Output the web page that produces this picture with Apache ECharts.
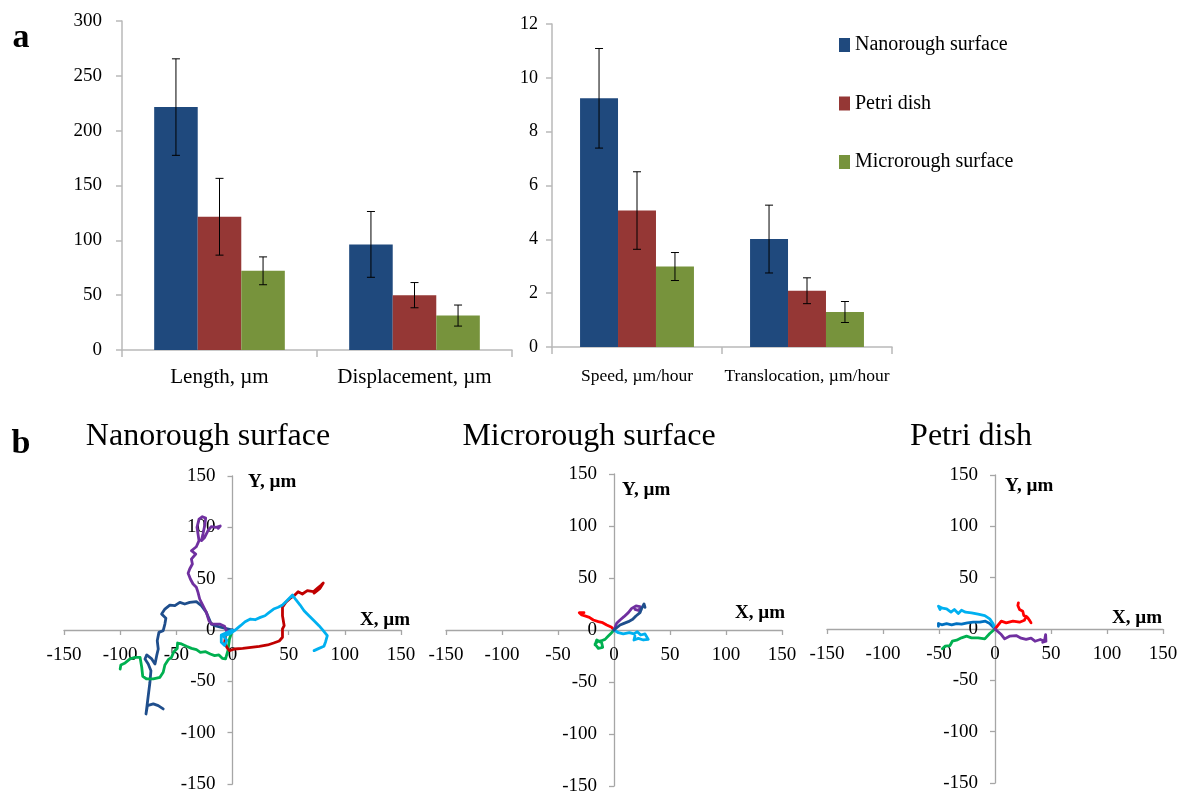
<!DOCTYPE html>
<html>
<head>
<meta charset="utf-8">
<script src="https://cdn.jsdelivr.net/npm/echarts@6/dist/echarts.min.js"></script>
<style>
  html, body { margin: 0; padding: 0; background: #fff; }
  #chart { width: 1179px; height: 793px; }
</style>
</head>
<body>
<div id="chart"></div>
<script>
// ---- Panel a: motility parameters (mean ± SD) ----
const seriesNames = ['Nanorough surface', 'Petri dish', 'Microrough surface'];
const barColors = ['#1F497D', '#953735', '#77933C'];

const distCategories = ['Length, µm', 'Displacement, µm'];
const distNano = [221.5, 96.3];
const distNanoErr = [44, 30];
const distPetri = [121.5, 50];
const distPetriErr = [35, 11.5];
const distMicro = [72.2, 31.4];
const distMicroErr = [12.7, 9.6];
const distTicks = [0, 50, 100, 150, 200, 250, 300];

const rateCategories = ['Speed, µm/hour', 'Translocation, µm/hour'];
const rateNano = [9.24, 4.01];
const rateNanoErr = [1.85, 1.26];
const ratePetri = [5.07, 2.09];
const ratePetriErr = [1.44, 0.48];
const rateMicro = [2.99, 1.30];
const rateMicroErr = [0.52, 0.39];
const rateTicks = [0, 2, 4, 6, 8, 10, 12];

// ---- Panel b: cell trajectories, [x, y] in µm ----
const xyTicks = [-150, -100, -50, 0, 50, 100, 150];

const nanoBlue = [[0,0],[-8,2],[-15,4],[-18.9,5.8],[-23.3,17.2],[-27.7,23.7],[-32.2,27.6],[-38.1,26.9],[-42.5,25.3],[-46.9,26.9],[-51.3,23.7],[-55.8,24.3],[-60.2,20.4],[-63.1,15.6],[-59.3,11.4],[-60.2,5.8],[-61.7,-0.6],[-65.5,-2.3],[-67,-10.4],[-66.1,-18.5],[-67.5,-25],[-69,-33.1],[-71.9,-28.2],[-76.4,-24.3],[-77.9,-28.2],[-75,-33.1],[-72.6,-39.6],[-73.5,-50.9],[-75,-64],[-77,-81.8],[-75.8,-73.7],[-70.5,-72],[-66.1,-73.7],[-61.7,-76.9]];
const nanoGreen = [[0,0],[-2.7,-8.8],[-4.1,-20.1],[-6.2,-28.2],[-9.1,-27.6],[-12.1,-24.3],[-15.9,-24.9],[-19.8,-23.4],[-23.9,-21.1],[-28.6,-21.8],[-32.1,-19.2],[-36.5,-17.9],[-41,-15.9],[-45.4,-13.6],[-48.9,-12.7],[-49.2,-17.9],[-52.2,-21.1],[-54.3,-26.6],[-57.2,-28.9],[-60.2,-34.1],[-61.7,-41.2],[-64.6,-46.1],[-70.5,-47.7],[-76.4,-47.7],[-79.9,-45.1],[-80.8,-36.3],[-82.3,-26.6],[-86.7,-26.6],[-91.2,-28.2],[-95.6,-32.1],[-99.4,-34.1],[-100,-38]];
const nanoRed = [[0,0],[-6,-4],[-7,-12],[-5,-17],[-2.7,-20.1],[1.8,-18.5],[9.1,-17.9],[16.5,-16.9],[23.9,-15.9],[31.3,-14.6],[36.6,-12.7],[41.6,-10.7],[44.5,-7.1],[44.5,1],[46,4.2],[44.5,13.9],[44.5,22.1],[47.5,27],[51.3,30.8],[55.5,34.1],[58.4,37.3],[62.2,35.1],[66.6,38.3],[72,37.3],[75.5,40.6],[79,43.8],[80.8,45.8],[77.9,40.6],[72.6,36]];
const nanoPurple = [[0,0],[-5,-2],[-6.2,-2.3],[-7.1,3.6],[-11.5,5.8],[-18.9,5.8],[-21,9.1],[-23.3,17.2],[-26.3,23.7],[-29.2,30.2],[-30.7,36.7],[-32.2,41.6],[-35.1,44.8],[-37.5,49.7],[-39.5,55.2],[-38.1,59.4],[-35.7,64.3],[-36.6,69.1],[-32.7,74],[-36.6,77.2],[-32.2,81.1],[-29.8,87],[-30.7,93.5],[-31.6,100],[-29.8,108],[-26.8,110.3],[-23.9,109],[-24.8,101.6],[-26.3,93.5],[-27.7,87],[-24.8,90.2],[-21.8,96.7],[-18.9,100.6],[-14.5,99.9],[-10.9,101.3],[-12.7,99]];
const nanoCyan = [[0,0],[-6,-3],[-10,-5],[-10,-12],[-7,-15],[-5,-10],[-8,-6],[-7.1,-5.5],[-2.7,-3.9],[1.8,-0.6],[7.1,4.2],[11.2,8.1],[15.9,10.7],[20.1,10],[24.8,12.3],[28.9,13.9],[32.7,17.2],[36.6,20.4],[40.7,22.1],[44.5,24.3],[48.4,28.5],[53.4,34.1],[56.4,29.5],[60.2,24.3],[63.7,18.8],[68.1,13.9],[72.6,9.1],[77,4.2],[80.8,-0.6],[84.4,-5.5],[82.9,-11.4],[81.4,-15.9],[77,-17.9],[72.6,-20.1]];

const microRed = [[0,0],[-2.1,2.6],[-6.5,4.8],[-10.1,7],[-14,8],[-18.5,9.6],[-22,12.2],[-25.9,13.5],[-28.8,14.4],[-31,16.7],[-29.7,18.6],[-26.8,16.7]];
const microPurple = [[0,0],[2.4,6.4],[5.4,9.6],[8.9,12.8],[12.8,16.7],[15.8,20.8],[19.6,23.1],[23.2,22.4],[22.6,18.6],[18.7,19.9]];
const microBlue = [[0,0],[5.4,4.8],[8.9,6.4],[12.8,8],[16.7,10.3],[19.6,13.5],[23.2,16.7],[24.7,20.8],[26.8,25],[28.5,25.6],[27.7,21.8]];
const microCyan = [[0,0],[3.9,-2.6],[8.3,-3.8],[13.7,-2.6],[17.8,-3.8],[20.8,-1.6],[23.8,-4.8],[27.7,-3.8],[30.6,-9],[26.2,-9.6],[21.7,-8],[17.8,-9.6],[18.7,-5.8]];
const microGreen = [[0,0],[-2.1,-2.6],[-5.1,-5.8],[-8,-9],[-11,-10.3],[-14.9,-11.3],[-16.9,-13.5],[-14,-17.6],[-10.1,-16.7],[-11,-12.2],[-15.4,-9.6],[-16.9,-14.4]];

const petriRed = [[0,0],[5.6,7.6],[10,6],[16,7.6],[21.9,6.6],[26.3,8.6],[27.8,12.5],[30.8,8.6],[32.2,6],[29.3,10.9],[25.7,13.1],[24.8,17.3],[21.9,19],[20.4,22.9],[20.9,25.5]];
const petriPurple = [[0,0],[5.6,-5.4],[8.6,-9.6],[13,-7],[18.9,-6.4],[23.3,-8.9],[27.8,-10.2],[32.2,-8.9],[35.7,-11.9],[40.5,-10.2],[44.1,-11.9],[45.2,-5.4],[45.5,-11.9],[42.6,-12.9]];
const petriGreen = [[0,0],[-4.7,-4.4],[-9.1,-9.6],[-15.1,-8.6],[-21,-8.6],[-25.4,-7],[-29.9,-8.6],[-34.3,-10.9],[-38.1,-11.9],[-40.2,-16.1],[-44.6,-16.7],[-47,-19.3]];
const petriBlue = [[0,0],[-4.7,5.4],[-8.6,7.6],[-13.6,6.6],[-19.5,6.6],[-24.6,6],[-29.9,4.7],[-34.3,5.3],[-38.7,4.1],[-43.2,5.3],[-47.6,4.1],[-50.5,5.3],[-50.5,2.7]];
const petriCyan = [[0,0],[-1.8,5.4],[-4.7,9.9],[-9.1,13.1],[-15.1,14.4],[-21,15.8],[-26.3,16.4],[-29.9,18.3],[-32.8,15.1],[-36.3,19],[-39.3,16.4],[-43.2,19.7],[-47,20.3],[-50.5,22.2],[-49,19]];

const panelTitles = ['Nanorough surface', 'Microrough surface', 'Petri dish'];

// ---- styling ----
const FONT = '"Liberation Serif", "Times New Roman", serif';
const AXIS_GREY = '#B9B9B9';
const CAT_GAP = 0.33;

// trajectory grids: [left, top, width, height]
const xyGrids = [[64, 476, 337, 308], [446, 474, 336, 312], [827, 475, 336, 308]];

const chart = echarts.init(document.getElementById('chart'), null, { renderer: 'canvas' });

function barSeries(name, color, data, axisIdx) {
  return {
    name, type: 'bar', xAxisIndex: axisIdx, yAxisIndex: axisIdx, data,
    barGap: '0%', barCategoryGap: (CAT_GAP * 100) + '%',
    itemStyle: { color }, silent: true
  };
}

// Whiskers drawn over each bar; slot = position of the bar in its group (0..2)
function errorSeries(values, errors, slot, axisIdx) {
  return {
    type: 'custom', xAxisIndex: axisIdx, yAxisIndex: axisIdx, silent: true, z: 10,
    data: values.map((v, i) => [i, v, errors[i]]),
    renderItem(params, api) {
      const cat = api.value(0), v = api.value(1), e = api.value(2);
      const band = api.size([1, 0])[0];
      const bw = band * (1 - CAT_GAP) / 3;
      const cx = api.coord([cat, v])[0] + (slot - 1) * bw;
      const yTop = api.coord([cat, v + e])[1];
      const yBot = api.coord([cat, v - e])[1];
      const cap = 4;
      const st = { stroke: '#000', lineWidth: 1 };
      return { type: 'group', children: [
        { type: 'line', shape: { x1: cx, y1: yTop, x2: cx, y2: yBot }, style: st },
        { type: 'line', shape: { x1: cx - cap, y1: yTop, x2: cx + cap, y2: yTop }, style: st },
        { type: 'line', shape: { x1: cx - cap, y1: yBot, x2: cx + cap, y2: yBot }, style: st }
      ]};
    }
  };
}

function track(data, color, axisIdx) {
  return {
    type: 'line', xAxisIndex: axisIdx, yAxisIndex: axisIdx, data,
    symbol: 'none', showSymbol: false, silent: true, smooth: false,
    lineStyle: { color, width: 2.8, join: 'round', cap: 'round' }
  };
}

function catAxis(cats, gridIndex, fontSize, margin) {
  return {
    type: 'category', gridIndex, data: cats,
    axisLine: { lineStyle: { color: AXIS_GREY, width: 1.5 } },
    axisTick: { show: true, length: 7, lineStyle: { color: AXIS_GREY, width: 1.5 } },
    axisLabel: { color: '#000', fontFamily: FONT, fontSize, margin, interval: 0 }
  };
}
function barValueAxis(ticks, gridIndex, fontSize, margin) {
  return {
    type: 'value', gridIndex, min: ticks[0], max: ticks[ticks.length - 1],
    interval: ticks[1] - ticks[0],
    axisLine: { show: true, lineStyle: { color: AXIS_GREY, width: 1.5 } },
    axisTick: { show: true, length: 6, lineStyle: { color: AXIS_GREY, width: 1.5 } },
    splitLine: { show: false },
    axisLabel: { color: '#000', fontFamily: FONT, fontSize, margin }
  };
}
// Crossing axes: the axis is shifted from the grid edge to the middle (the zero line)
function xyAxis(kind, gridIndex) {
  const g = xyGrids[gridIndex - 2];
  return {
    type: 'value', gridIndex, min: xyTicks[0], max: xyTicks[xyTicks.length - 1],
    interval: xyTicks[1] - xyTicks[0],
    position: kind === 'x' ? 'bottom' : 'left',
    offset: kind === 'x' ? -g[3] / 2 : -g[2] / 2,
    axisLine: { show: true, onZero: false, lineStyle: { color: '#A6A6A6', width: 1.3 } },
    axisTick: { show: true, length: 5, lineStyle: { color: '#A6A6A6', width: 1.3 } },
    splitLine: { show: false },
    axisLabel: { color: '#000', fontFamily: FONT, fontSize: 19, margin: kind === 'x' ? 16 : 17 }
  };
}

function label(text, x, y, size, bold, align) {
  return {
    type: 'text', x, y, silent: true,
    style: {
      text, fill: '#000',
      font: (bold ? 'bold ' : '') + size + 'px ' + FONT,
      align: align || 'left', textAlign: align || 'left',
      verticalAlign: 'middle', textVerticalAlign: 'middle'
    }
  };
}

const option = {
  animation: false,
  backgroundColor: '#fff',
  grid: [
    { left: 122, width: 390, top: 21, height: 329, outerBoundsMode: 'none' },
    { left: 552, width: 340, top: 24, height: 323, outerBoundsMode: 'none' }
  ].concat(xyGrids.map(g => ({ left: g[0], top: g[1], width: g[2], height: g[3], outerBoundsMode: 'none' }))),
  legend: {
    data: seriesNames, orient: 'vertical', left: 834, top: 30,
    icon: 'rect', itemWidth: 11, itemHeight: 14, itemGap: 38.5,
    textStyle: { fontFamily: FONT, fontSize: 20, color: '#000', lineHeight: 20 },
    selectedMode: false
  },
  xAxis: [
    catAxis(distCategories, 0, 21, 17),
    catAxis(rateCategories, 1, 17.5, 20),
    xyAxis('x', 2), xyAxis('x', 3), xyAxis('x', 4)
  ],
  yAxis: [
    barValueAxis(distTicks, 0, 19, 20),
    barValueAxis(rateTicks, 1, 18, 14),
    xyAxis('y', 2), xyAxis('y', 3), xyAxis('y', 4)
  ],
  series: [
    barSeries(seriesNames[0], barColors[0], distNano, 0),
    barSeries(seriesNames[1], barColors[1], distPetri, 0),
    barSeries(seriesNames[2], barColors[2], distMicro, 0),
    errorSeries(distNano, distNanoErr, 0, 0),
    errorSeries(distPetri, distPetriErr, 1, 0),
    errorSeries(distMicro, distMicroErr, 2, 0),
    barSeries(seriesNames[0], barColors[0], rateNano, 1),
    barSeries(seriesNames[1], barColors[1], ratePetri, 1),
    barSeries(seriesNames[2], barColors[2], rateMicro, 1),
    errorSeries(rateNano, rateNanoErr, 0, 1),
    errorSeries(ratePetri, ratePetriErr, 1, 1),
    errorSeries(rateMicro, rateMicroErr, 2, 1),

    track(nanoBlue, '#1F4E8C', 2),
    track(nanoGreen, '#00B050', 2),
    track(nanoRed, '#C00000', 2),
    track(nanoPurple, '#7030A0', 2),
    track(nanoCyan, '#00B0F0', 2),

    track(microRed, '#FF0000', 3),
    track(microGreen, '#00B050', 3),
    track(microCyan, '#00B0F0', 3),
    track(microPurple, '#7030A0', 3),
    track(microBlue, '#1F4E8C', 3),

    track(petriBlue, '#0070C0', 4),
    track(petriCyan, '#00B0F0', 4),
    track(petriGreen, '#00B050', 4),
    track(petriRed, '#FF0000', 4),
    track(petriPurple, '#7030A0', 4)
  ],
  graphic: [
    label('a', 21, 38, 34, true, 'center'),
    label('b', 21, 444, 34, true, 'center'),
    label(panelTitles[0], 208, 437, 32, false, 'center'),
    label(panelTitles[1], 589, 437, 32, false, 'center'),
    label(panelTitles[2], 971, 437, 32, false, 'center'),
    label('Y, µm', 248, 482, 19, true),
    label('X, µm', 360, 620, 19, true),
    label('Y, µm', 622, 490, 19, true),
    label('X, µm', 735, 613, 19, true),
    label('Y, µm', 1005, 486, 19, true),
    label('X, µm', 1112, 618, 19, true)
  ]
};

chart.setOption(option);
</script>
</body>
</html>
